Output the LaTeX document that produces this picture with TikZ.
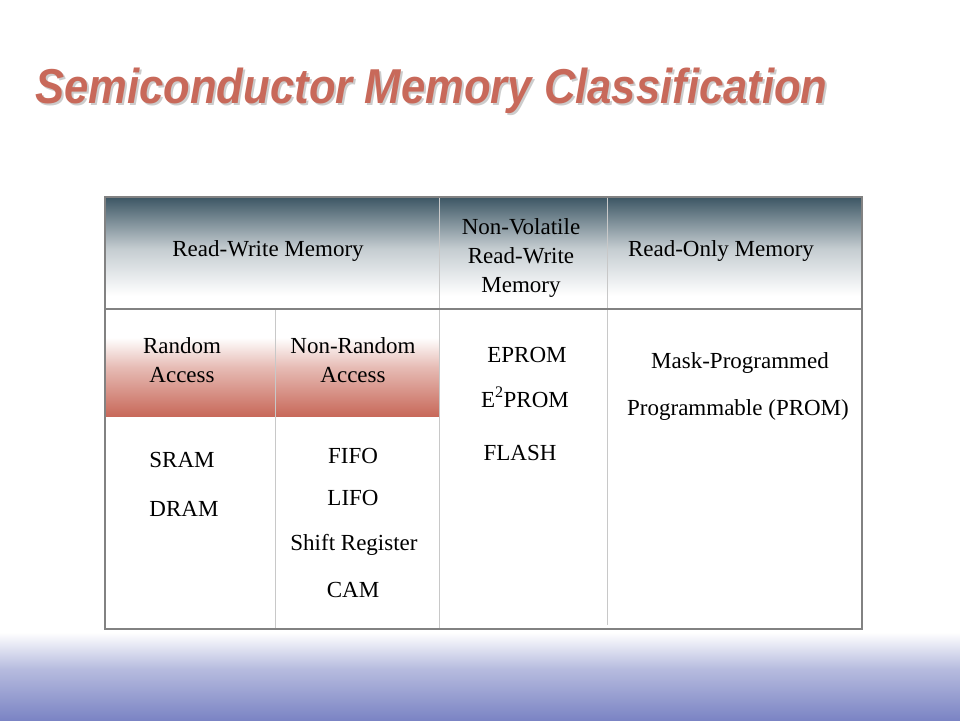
\documentclass[tikz,border=0pt]{standalone}
\usepackage{fontspec}
\setmainfont{Liberation Serif}
\newfontfamily\titlefont[FakeStretch=0.89]{Liberation Sans}
\usepackage{tikz}
\usetikzlibrary{positioning}
\usepackage{xcolor}
\definecolor{titlered}{RGB}{200, 105, 90}
\definecolor{slatetop}{RGB}{60, 86, 100}
\definecolor{accessred}{RGB}{200, 105, 90}
\definecolor{bandblue}{RGB}{123, 132, 196}
\definecolor{framegray}{RGB}{130, 130, 130}
\definecolor{rulegray}{RGB}{200, 200, 200}

% the path covers 25bp (bottom) to 75bp (top) of each shading
\pgfdeclareverticalshading{headshade}{100bp}{color(0bp)=(white); color(31bp)=(white);
  color(52bp)=(slatetop!30!white); color(75bp)=(slatetop); color(100bp)=(slatetop)}
\pgfdeclareverticalshading{accessshade}{100bp}{color(0bp)=(accessred); color(25bp)=(accessred);
  color(48bp)=(accessred!45!white); color(62bp)=(white); color(100bp)=(white)}
\pgfdeclareverticalshading{bandshade}{100bp}{color(0bp)=(bandblue); color(25bp)=(bandblue);
  color(50bp)=(bandblue!55!white); color(68bp)=(white); color(100bp)=(white)}

\begin{document}
\begin{tikzpicture}[
    x=1pt, y=-1pt,
    titletext/.style={anchor=base west, inner sep=0pt,
                      font=\titlefont\fontsize{49}{55}\selectfont\bfseries\itshape},
    cell/.style={inner sep=0pt, align=center, font=\fontsize{23}{29}\selectfont},
    line/.style={anchor=base, inner sep=0pt, font=\fontsize{23}{29}\selectfont},
    frame/.style={draw=framegray, line width=1.5pt},
    rule/.style={draw=rulegray, line width=0.8pt},
  ]
    \useasboundingbox (0,0) rectangle (960,720);

    % Bottom band
    \shade[shading=bandshade] (0,618) rectangle (960,720);

    % Title
    \node[titletext, text=gray!40] (titleshadow) at (37,105) {Semiconductor Memory Classification};
    \node[titletext, text=titlered] (title) at (35,103) {Semiconductor Memory Classification};

    % Table background
    \fill[white] (105,197) rectangle (862,629);
    \shade[shading=headshade] (105,197) rectangle (862,309);
    \shade[shading=accessshade] (106,310) rectangle (439,416);

    % Grid
    \draw[rule] (439,197) -- (439,629);
    \draw[rule] (607,197) -- (607,625);
    \draw[rule] (275,309) -- (275,629);
    \draw[frame] (105,197) rectangle (862,629);
    \draw[frame] (105,309) -- (862,309);

    % Header row
    \node[line] (rwm) at (268,256) {Read-Write Memory};
    \node[cell] (nvrwm) at (521,258) {Non-Volatile\\Read-Write\\Memory};
    \node[line] (rom) at (721,256) {Read-Only Memory};

    % Access row
    \node[cell] (random) at (182,360) {Random\\Access};
    \node[cell] (nonrandom) at (353,360) {Non-Random\\Access};

    % Random access
    \node[line] (sram) at (182,467) {SRAM};
    \node[line] (dram) at (184,516) {DRAM};

    % Non-random access
    \node[line] (fifo) at (353,463) {FIFO};
    \node[line] (lifo) at (353,505) {LIFO};
    \node[line] (shift) at (354,550) {Shift Register};
    \node[line] (cam) at (353,597) {CAM};

    % Non-volatile
    \node[line] (eprom) at (527,362) {EPROM};
    \node[line] (eeprom) at (525,407) {E\textsuperscript{2}PROM};
    \node[line] (flash) at (520,460) {FLASH};

    % Read-only
    \node[line] (mask) at (740,368) {Mask-Programmed};
    \node[line] (prom) at (738,415) {Programmable (PROM)};
  \end{tikzpicture}
\end{document}
